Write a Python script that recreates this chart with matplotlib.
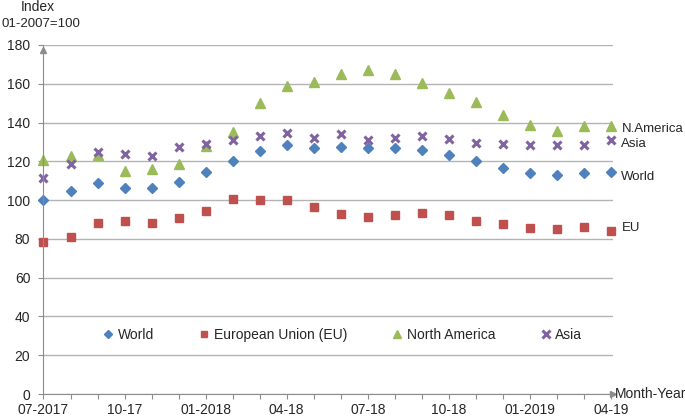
import matplotlib.pyplot as plt
import numpy as np

plt.rcParams['font.family'] = ['Liberation Sans', 'DejaVu Sans']

# monthly index values, 07-2017 .. 04-2019 (01-2007 = 100)
months = list(range(22))
tick_pos = [0, 3, 6, 9, 12, 15, 18, 21]
tick_labels = ['07-2017', '10-17', '01-2018', '04-18', '07-18', '10-18', '01-2019', '04-19']

world = [100.3, 104.5, 109.0, 106.4, 106.2, 109.3, 114.3, 120.2, 125.1, 128.2, 127.0,
         127.4, 126.9, 126.7, 126.0, 123.3, 120.2, 116.8, 114.2, 113.2, 114.2, 114.4]
eu = [78.2, 81.2, 88.1, 89.2, 88.1, 90.8, 94.3, 100.4, 99.9, 100.3, 96.3,
      92.6, 91.4, 92.1, 93.3, 92.2, 89.0, 87.5, 85.5, 85.3, 86.0, 84.1]
n_america = [120.5, 122.8, 123.1, 115.2, 116.0, 118.4, 127.8, 135.0, 150.3, 158.9, 160.8,
             164.9, 167.1, 164.9, 160.3, 155.1, 150.8, 143.9, 138.6, 135.9, 138.3, 138.3]
asia = [111.4, 118.8, 124.8, 123.8, 122.8, 127.4, 128.8, 131.1, 133.0, 134.4, 131.8,
        133.9, 131.1, 132.2, 132.9, 131.7, 129.6, 128.9, 128.2, 128.2, 128.2, 130.8]

fig = plt.figure(figsize=(6.85, 4.2), dpi=100)
ax = fig.add_axes([43.5 / 685, 26 / 420, 569.5 / 685, 349 / 420])

ax.plot(months, world, 'D', color='#4F81BD', ms=5.3, ls='none', label='World', clip_on=False)
ax.plot(months, eu, 's', color='#C0504D', ms=5.9, ls='none', label='European Union (EU)', clip_on=False)
ax.plot(months, n_america, '^', color='#9BBB59', ms=7.4, ls='none', label='North America', clip_on=False)
ax.plot(months, asia, 'x', color='#8064A2', ms=6, mew=2.2, ls='none', label='Asia', clip_on=False)

ax.set_xlim(0, 21 * 569.5 / 567.5)
ax.set_ylim(0, 180)
ax.set_yticks(np.arange(0, 181, 20))
ax.set_xticks(months)
ax.set_xticklabels(['' for _ in months])
for p, lab in zip(tick_pos, tick_labels):
    ax.text(p, -0.047, lab, transform=ax.get_xaxis_transform(), ha='center', va='center',
            fontsize=10, color='#262626')

ax.grid(axis='y', color='#B3B3B3', lw=1)
ax.set_axisbelow(True)
for s in ['top', 'right']:
    ax.spines[s].set_visible(False)
for s in ['left', 'bottom']:
    ax.spines[s].set_color('#8C8C8C')
ax.tick_params(axis='both', colors='#8C8C8C', length=3.5, labelcolor='#262626', labelsize=10)
ax.tick_params(axis='y', pad=6)

# axis arrows
ax.plot(1, 0, '>', transform=ax.get_yaxis_transform(), color='#8C8C8C', ms=5, clip_on=False)
ax.plot(0, 0.985, '^', transform=ax.get_xaxis_transform(), color='#8C8C8C', ms=5, clip_on=False)

ax.text(1.003, 0, 'Month-Year', transform=ax.transAxes, ha='left', va='center',
        fontsize=10, color='#262626')
fig.text(38 / 685, 1 - 7 / 420, 'Index', ha='center', va='center', fontsize=10, color='#262626')
fig.text(1 / 685, 1 - 24 / 420, '01-2007=100', ha='left', va='center', fontsize=9.5, color='#262626')

# end labels
end_labels = [('N.America', n_america[-1], -2.5), ('Asia', asia[-1], -2.5),
              ('World', world[-1], -3.5), ('EU', eu[-1], 2)]
for name, val, dy in end_labels:
    ax.annotate(name, (months[-1], val), xytext=(7.5, dy), textcoords='offset points',
                ha='left', va='center', fontsize=9.5, color='#262626', annotation_clip=False)

leg = ax.legend(ncol=4, loc='center', bbox_to_anchor=(0.525, 0.169), frameon=False,
                fontsize=10, handlelength=0.8, handletextpad=0.3, columnspacing=3.2,
                markerscale=0.85)
for t in leg.get_texts():
    t.set_color('#262626')

fig.savefig('out.png', dpi=100)
